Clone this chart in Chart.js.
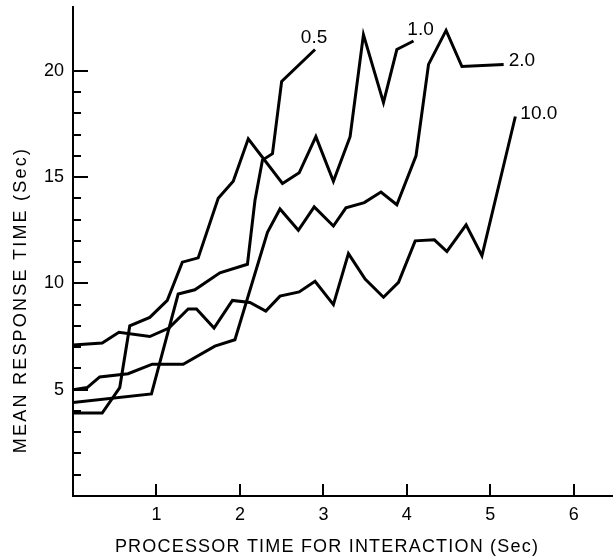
<!DOCTYPE html>
<html>
<head>
<meta charset="utf-8">
<script src="https://cdn.jsdelivr.net/npm/chart.js@4.4.1/dist/chart.umd.min.js"></script>
<style>
  html, body { margin: 0; padding: 0; background: #fff; }
  canvas { display: block; }
</style>
</head>
<body>
<canvas id="responseChart" width="613" height="559"></canvas>
<script>
// curve names, written at the end of each curve
const seriesNames = ['0.5', '1.0', '2.0', '10.0'];

// processor time (sec) / mean response time (sec)
const x05 = [0, 0.94, 1.26, 1.46, 1.76, 2.09, 2.18, 2.27, 2.39, 2.50, 2.90];
const y05 = [4.4, 4.8, 9.5, 9.7, 10.5, 10.9, 13.9, 15.8, 16.1, 19.5, 21.0];

const x10 = [0, 0.35, 0.56, 0.68, 0.92, 1.13, 1.31, 1.50, 1.74, 1.92, 2.10, 2.51, 2.71, 2.91, 3.12, 3.32, 3.48, 3.72, 3.88, 4.08];
const y10 = [3.9, 3.9, 5.1, 8.0, 8.4, 9.2, 11.0, 11.2, 14.0, 14.8, 16.8, 14.7, 15.2, 16.9, 14.8, 16.9, 21.7, 18.5, 21.0, 21.4];

const x20 = [0, 0.17, 0.32, 0.66, 0.95, 1.32, 1.70, 1.94, 2.33, 2.48, 2.70, 2.89, 3.12, 3.27, 3.49, 3.69, 3.88, 4.11, 4.26, 4.47, 4.66, 5.16];
const y20 = [5.0, 5.1, 5.6, 5.75, 6.2, 6.2, 7.05, 7.35, 12.4, 13.5, 12.5, 13.6, 12.7, 13.55, 13.8, 14.3, 13.7, 16.0, 20.3, 21.9, 20.2, 20.3];

const x100 = [0, 0.35, 0.55, 0.92, 1.15, 1.38, 1.48, 1.69, 1.91, 2.12, 2.31, 2.48, 2.71, 2.90, 3.12, 3.30, 3.50, 3.72, 3.90, 4.10, 4.33, 4.48, 4.71, 4.90, 5.30];
const y100 = [7.1, 7.2, 7.7, 7.5, 7.9, 8.8, 8.8, 7.9, 9.2, 9.1, 8.7, 9.4, 9.6, 10.1, 9.0, 11.4, 10.2, 9.35, 10.05, 12.0, 12.05, 11.5, 12.75, 11.3, 17.85];

const xTicks = [1, 2, 3, 4, 5, 6];
const yTicks = [5, 10, 15, 20];
const yMinorTicks = [1, 2, 3, 4, 6, 7, 8, 9, 11, 12, 13, 14, 16, 17, 18, 19];

const xTitle = 'PROCESSOR TIME FOR INTERACTION (Sec)';
const yTitle = 'MEAN RESPONSE TIME (Sec)';

const FONT = "'Liberation Sans', Arial, sans-serif";

const toPoints = (xs, ys) => xs.map((x, i) => ({ x: x, y: ys[i] }));
const allX = [x05, x10, x20, x100];
const allY = [y05, y10, y20, y100];

// label offsets from the last point of each curve [dx, dy, align]
const labelPos = [[-1, -12, 'center'], [7, -11, 'center'], [5, -4, 'left'], [5, -3, 'left']];

// fit text to a given width by spreading the letters
function fitText(ctx, text, width) {
    ctx.letterSpacing = '0px';
    const w = ctx.measureText(text).width;
    const sp = (width - w) / (text.length - 1);
    ctx.letterSpacing = sp.toFixed(2) + 'px';
}

// drop the extra room chart.js keeps for end labels
function noPad(s) {
    s.paddingTop = 0; s.paddingBottom = 0;
    s.paddingLeft = 0; s.paddingRight = 0;
}

const decorations = {
    id: 'decorations',
    afterDraw(chart) {
        const ctx = chart.ctx;
        const xs = chart.scales.x, ys = chart.scales.y;
        const area = chart.chartArea;
        ctx.save();
        ctx.strokeStyle = '#000';
        ctx.lineWidth = 2;
        ctx.beginPath();
        // ticks point into the plot
        yTicks.forEach(v => {
            const p = Math.round(ys.getPixelForValue(v));
            ctx.moveTo(area.left, p); ctx.lineTo(area.left + 15, p);
        });
        yMinorTicks.forEach(v => {
            const p = Math.round(ys.getPixelForValue(v));
            ctx.moveTo(area.left, p); ctx.lineTo(area.left + 8, p);
        });
        xTicks.forEach(v => {
            const p = Math.round(xs.getPixelForValue(v));
            ctx.moveTo(p, area.bottom); ctx.lineTo(p, area.bottom - 12);
        });
        ctx.stroke();

        // curve labels
        ctx.fillStyle = '#000';
        ctx.font = '19px ' + FONT;
        ctx.textBaseline = 'middle';
        chart.data.datasets.forEach((ds, i) => {
            const pts = chart.getDatasetMeta(i).data;
            const last = pts[pts.length - 1];
            const o = labelPos[i];
            ctx.textAlign = o[2];
            ctx.fillText(seriesNames[i], last.x + o[0], last.y + o[1]);
        });

        // axis titles
        ctx.font = '18px ' + FONT;
        ctx.textAlign = 'center';
        fitText(ctx, xTitle, 423);
        ctx.fillText(xTitle, 327, 547);
        ctx.translate(21, 300);
        ctx.rotate(-Math.PI / 2);
        fitText(ctx, yTitle, 304);
        ctx.fillText(yTitle, 0, 0);
        ctx.restore();
    }
};

new Chart(document.getElementById('responseChart'), {
    type: 'line',
    data: {
        datasets: seriesNames.map((name, i) => ({
            label: name,
            data: toPoints(allX[i], allY[i]),
            borderColor: '#000',
            borderWidth: 3,
            pointRadius: 0,
            tension: 0,
            fill: false
        }))
    },
    options: {
        responsive: false,
        animation: false,
        layout: { padding: { top: 7, right: 0, left: 0, bottom: 0 } },
        plugins: { legend: { display: false }, tooltip: { enabled: false } },
        scales: {
            x: {
                type: 'linear',
                min: 0,
                max: 6.47,
                grid: { display: false, drawTicks: false },
                border: { display: true, color: '#000', width: 2 },
                afterBuildTicks: s => { s.ticks = xTicks.map(v => ({ value: v })); },
                afterFit: s => { s.height = 63; noPad(s); },
                ticks: { color: '#000', padding: 8, font: { size: 18, family: FONT }, maxRotation: 0 }
            },
            y: {
                type: 'linear',
                min: 0,
                max: 23,
                grid: { display: false, drawTicks: false },
                border: { display: true, color: '#000', width: 2 },
                afterBuildTicks: s => { s.ticks = yTicks.map(v => ({ value: v })); },
                afterFit: s => { s.width = 73; noPad(s); },
                ticks: { color: '#000', padding: 9, font: { size: 18, family: FONT } }
            }
        }
    },
    plugins: [decorations]
});
</script>
</body>
</html>
